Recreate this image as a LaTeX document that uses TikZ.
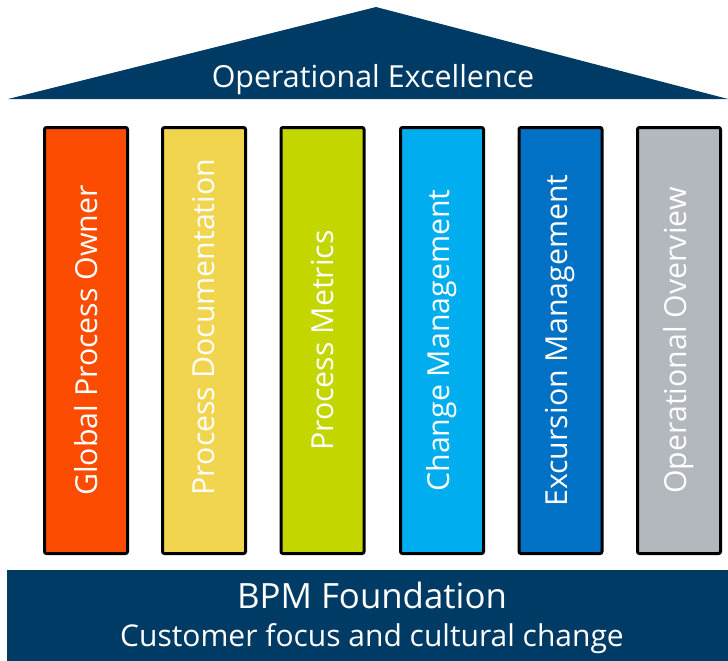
\documentclass[tikz,border=0pt]{standalone}
\usepackage{fontspec}
\setmainfont{Open Sans}
\usetikzlibrary{positioning}

\definecolor{house blue}{HTML}{003B65}
\definecolor{owner orange}{HTML}{FC4C02}
\definecolor{docs yellow}{HTML}{F2D54E}
\definecolor{metrics green}{HTML}{C4D600}
\definecolor{change cyan}{HTML}{00AEEF}
\definecolor{excursion blue}{HTML}{0071C5}
\definecolor{overview gray}{HTML}{B2B8BE}

\begin{document}
\begin{tikzpicture}[x=1pt,y=-1pt,
	pillar/.style={rectangle,draw=black,line width=3pt,rounded corners=2pt,rotate=90,
		minimum width=426pt,minimum height=83pt,inner sep=0pt,text=white,
		font=\fontsize{30.3}{34}\selectfont}]
	\useasboundingbox (0,0) rectangle (728,661);

	% roof
	\coordinate (roof left) at (8,99);
	\coordinate (roof top) at (376,7);
	\coordinate (roof right) at (728,99);
	\fill[house blue] (roof left) -- (roof top) -- (roof right) -- cycle;
	\node (roof label) [anchor=base,text=white,font=\fontsize{30.4}{34}\selectfont] at (373,87) {Operational Excellence};

	% pillars
	\node (pillar owner)     [pillar,fill=owner orange]   at (86,340.5)  {Global Process Owner};
	\node (pillar docs)      [pillar,fill=docs yellow]    at (204,340.5) {\hspace*{27pt}Process Documentation};
	\node (pillar metrics)   [pillar,fill=metrics green]  at (322.5,340.5) {Process Metrics};
	\node (pillar change)    [pillar,fill=change cyan]    at (442,340.5) {Change Management};
	\node (pillar excursion) [pillar,fill=excursion blue] at (560.5,340.5) {Excursion Management};
	\node (pillar overview)  [pillar,fill=overview gray]  at (679,340.5) {Operational Overview};

	% foundation
	\node (foundation) [rectangle,fill=house blue,anchor=north west,minimum width=721pt,minimum height=91pt,inner sep=0pt] at (7,570) {};
	\node (foundation label) [anchor=base,text=white,font=\fontsize{34.8}{40}\selectfont] at (372,608) {BPM Foundation};
	\node (culture label) [anchor=base,text=white,font=\fontsize{30}{34}\selectfont] at (372,646) {Customer focus and cultural change};

\end{tikzpicture}
\end{document}
